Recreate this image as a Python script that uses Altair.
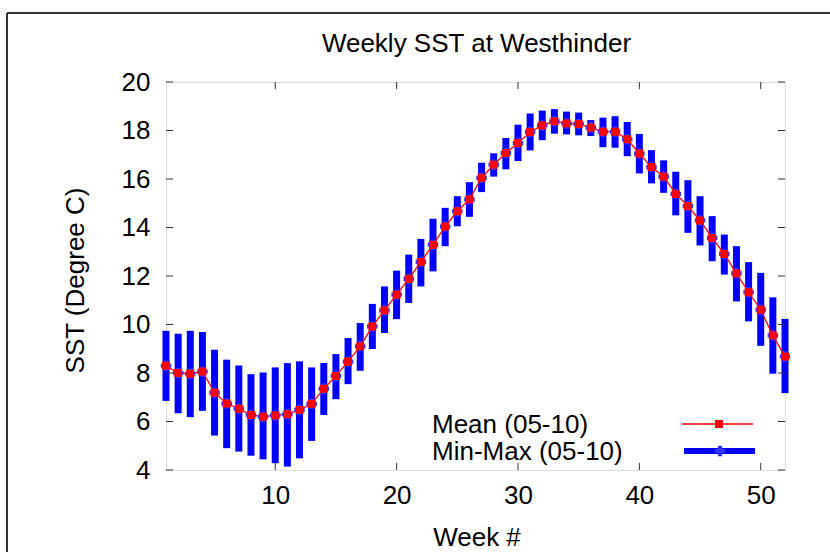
import altair as alt
import pandas as pd

weeks = list(range(1, 53))
mean_sst = [8.30, 8.00, 7.97, 8.06, 7.19, 6.74, 6.53, 6.27, 6.20, 6.25,
            6.30, 6.48, 6.73, 7.35, 7.88, 8.47, 9.10, 9.92, 10.58, 11.23,
            11.88, 12.58, 13.29, 14.04, 14.67, 15.16, 16.05, 16.59, 17.07, 17.48,
            17.94, 18.21, 18.38, 18.29, 18.27, 18.12, 17.95, 17.95, 17.64, 17.05,
            16.49, 16.10, 15.39, 14.88, 14.29, 13.57, 12.91, 12.11, 11.33, 10.61,
            9.55, 8.68]
min_sst = [6.85, 6.34, 6.18, 6.44, 5.42, 4.90, 4.76, 4.59, 4.44, 4.28,
           4.14, 4.48, 5.20, 6.27, 6.92, 7.54, 8.09, 8.99, 9.65, 10.22,
           10.89, 11.57, 12.19, 13.23, 14.05, 14.44, 15.46, 16.10, 16.40, 16.74,
           17.18, 17.60, 17.87, 17.84, 17.80, 17.77, 17.31, 17.29, 16.94, 16.23,
           15.82, 15.43, 14.50, 13.78, 13.26, 12.61, 12.06, 10.95, 10.13, 9.12,
           7.97, 7.17]
max_sst = [9.74, 9.62, 9.74, 9.69, 8.96, 8.55, 8.31, 7.95, 8.02, 8.23,
           8.41, 8.48, 8.23, 8.41, 8.78, 9.44, 10.06, 10.85, 11.57, 12.22,
           12.88, 13.53, 14.36, 14.81, 15.29, 15.87, 16.67, 17.06, 17.69, 18.24,
           18.70, 18.82, 18.88, 18.78, 18.74, 18.43, 18.53, 18.59, 18.35, 17.86,
           17.19, 16.77, 16.30, 15.95, 15.29, 14.47, 13.71, 13.23, 12.57, 12.13,
           11.12, 10.23]
y_ticks = [4, 6, 8, 10, 12, 14, 16, 18, 20]
x_ticks = [10, 20, 30, 40, 50]
legend_labels = ["Mean (05-10)", "Min-Max (05-10)"]
title_text = "Weekly SST at Westhinder"

FONT = "Liberation Sans"
FS = 26
W, H = 619, 388
FRAME = "#333333"

df = pd.DataFrame({"week": weeks, "mean": mean_sst, "min": min_sst, "max": max_sst})
one = pd.DataFrame({"a": [0]})

xscale = alt.Scale(domain=[1, 52], nice=False, zero=False)
yscale = alt.Scale(domain=[4, 20], nice=False, zero=False)

xaxis = alt.Axis(values=x_ticks, title="Week #", grid=False, domain=False, ticks=False,
                 tickSize=0, labelFont=FONT, labelFontSize=FS, labelColor="black",
                 labelPadding=12, titleFont=FONT, titleFontSize=FS, titleFontWeight="normal",
                 titleColor="black", titleX=W / 2 + 1, titleY=67, titleBaseline="middle",
                 titleAlign="center")
yaxis = alt.Axis(values=y_ticks, title="SST (Degree C)", grid=False, domain=False, ticks=False,
                 tickSize=0, labelFont=FONT, labelFontSize=FS, labelColor="black",
                 labelPadding=16, titleFont=FONT, titleFontSize=FS, titleFontWeight="normal",
                 titleColor="black", titleX=-91, titleY=H / 2 + 4, titleBaseline="middle",
                 titleAlign="center", titleAngle=-90)

X = alt.X("week:Q", scale=xscale, axis=xaxis)

bars = alt.Chart(df).mark_rule(color="#0000ff", strokeWidth=7).encode(
    x=X, y=alt.Y("min:Q", scale=yscale, axis=yaxis), y2="max:Q")
line = alt.Chart(df).mark_line(color="#ff0000", strokeWidth=1.3).encode(
    x=X, y=alt.Y("mean:Q", scale=yscale, axis=yaxis))
crosses = alt.Chart(df).mark_point(shape="cross", filled=True, color="#3333ff", size=110, opacity=1).encode(
    x=X, y=alt.Y("mean:Q", scale=yscale, axis=yaxis))
squares = alt.Chart(df).mark_square(color="#ff0000", size=64, opacity=1).encode(
    x=X, y=alt.Y("mean:Q", scale=yscale, axis=yaxis))

ydf = pd.DataFrame({"v": y_ticks})
xdf = pd.DataFrame({"v": x_ticks})
tick_l = alt.Chart(ydf).mark_rule(color=FRAME, strokeWidth=1).encode(
    y=alt.Y("v:Q", scale=yscale, axis=yaxis), x=alt.value(0), x2=alt.value(7))
tick_r = alt.Chart(ydf).mark_rule(color=FRAME, strokeWidth=1).encode(
    y=alt.Y("v:Q", scale=yscale, axis=yaxis), x=alt.value(W - 7), x2=alt.value(W))
tick_b = alt.Chart(xdf).mark_rule(color=FRAME, strokeWidth=1).encode(
    x=alt.X("v:Q", scale=xscale, axis=xaxis), y=alt.value(H - 7), y2=alt.value(H))
tick_t = alt.Chart(xdf).mark_rule(color=FRAME, strokeWidth=1).encode(
    x=alt.X("v:Q", scale=xscale, axis=xaxis), y=alt.value(0), y2=alt.value(7))

# outer figure border (top and left edges visible)
border_top = alt.Chart(one).mark_rule(color=FRAME, strokeWidth=2).encode(
    x=alt.value(-159), x2=alt.value(700), y=alt.value(-69))
border_left = alt.Chart(one).mark_rule(color=FRAME, strokeWidth=2).encode(
    x=alt.value(-159), y=alt.value(-69), y2=alt.value(500))

# title
title = alt.Chart(one).mark_text(text=title_text, align="center", baseline="middle",
                                 font=FONT, fontSize=FS, color="black").encode(
    x=alt.value(W / 2 + 1), y=alt.value(-38))

# legend
leg_t1 = alt.Chart(one).mark_text(text=legend_labels[0], align="left", baseline="middle",
                                  font=FONT, fontSize=FS, color="black").encode(
    x=alt.value(266), y=alt.value(343))
leg_t2 = alt.Chart(one).mark_text(text=legend_labels[1], align="left", baseline="middle",
                                  font=FONT, fontSize=FS, color="black").encode(
    x=alt.value(266), y=alt.value(370))
leg_l1 = alt.Chart(one).mark_rule(color="#ff0000", strokeWidth=1.3).encode(
    x=alt.value(516), x2=alt.value(587), y=alt.value(342))
leg_s1 = alt.Chart(one).mark_square(color="#ff0000", size=64, opacity=1).encode(
    x=alt.value(553), y=alt.value(342))
leg_l2 = alt.Chart(one).mark_rule(color="#0000ff", strokeWidth=6).encode(
    x=alt.value(518), x2=alt.value(589), y=alt.value(369))
leg_s2 = alt.Chart(one).mark_point(shape="cross", filled=True, color="#3333ff", size=110, opacity=1).encode(
    x=alt.value(554), y=alt.value(369))

chart = alt.layer(
    bars, line, crosses, squares, tick_l, tick_r, tick_b, tick_t,
    border_top, border_left, title, leg_t1, leg_t2, leg_l1, leg_s1, leg_l2, leg_s2
).properties(
    width=W, height=H,
    padding={"left": 166, "top": 82, "right": 45, "bottom": 82},
    autosize="none",
).configure_view(
    stroke=FRAME, strokeWidth=1.5
).configure(background="white")

chart.save("out.html", embed_options={"renderer": "svg", "actions": False})
